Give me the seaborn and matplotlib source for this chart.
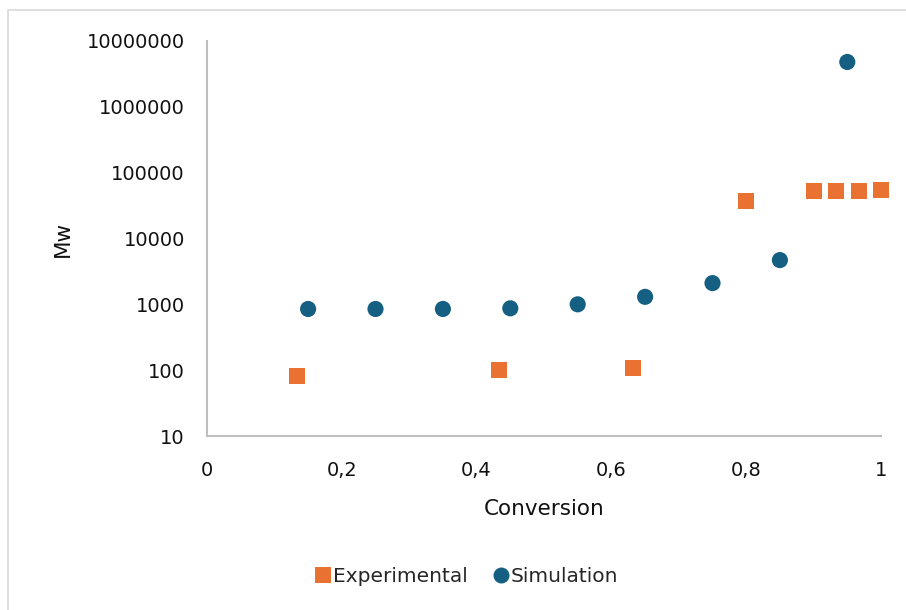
import matplotlib
matplotlib.use("Agg")
import matplotlib.pyplot as plt
from matplotlib.patches import Rectangle
from matplotlib.lines import Line2D
from matplotlib.ticker import FixedLocator, FuncFormatter, NullLocator
import seaborn as sns
import pandas as pd

# Measured weight-average molecular weight vs. conversion
exp_conversion = [0.133, 0.433, 0.632, 0.800, 0.900, 0.933, 0.967, 1.000]
exp_mw = [82, 100, 108, 37000, 52000, 52500, 52000, 54000]

# Simulated weight-average molecular weight vs. conversion
sim_conversion = [0.15, 0.25, 0.35, 0.45, 0.55, 0.65, 0.75, 0.85, 0.95]
sim_mw = [850, 850, 850, 870, 1000, 1300, 2100, 4700, 4800000]

series_names = ["Experimental", "Simulation"]
x_ticks = [0, 0.2, 0.4, 0.6, 0.8, 1.0]
y_ticks = [10, 100, 1000, 10000, 100000, 1000000, 10000000]

ORANGE = "#E97132"
BLUE = "#156082"
AXIS_GRAY = "#BFBFBF"
FONT = ["DejaVu Sans"]

df = pd.concat([
    pd.DataFrame({"Conversion": exp_conversion, "Mw": exp_mw, "Series": series_names[0]}),
    pd.DataFrame({"Conversion": sim_conversion, "Mw": sim_mw, "Series": series_names[1]}),
], ignore_index=True)

sns.set_theme(style="white")
plt.rcParams["font.family"] = FONT

fig = plt.figure(figsize=(9.06, 6.10), dpi=100)
fig.patch.set_facecolor("white")

# chart frame
fig.add_artist(Rectangle((8 / 906, -0.1), 1.2, 1 - 10 / 610 + 0.1,
                         transform=fig.transFigure, fill=False,
                         edgecolor="#D9D9D9", linewidth=1.2))

ax = fig.add_axes([207 / 906, 1 - 436 / 610, (881 - 207) / 906, (436 - 41) / 610])

palette = {series_names[0]: ORANGE, series_names[1]: BLUE}
markers = {series_names[0]: "s", series_names[1]: "o"}
sns.scatterplot(data=df, x="Conversion", y="Mw", hue="Series", style="Series",
                palette=palette, markers=markers, s=135, linewidth=0,
                legend=False, ax=ax, clip_on=False, zorder=3)

ax.set_yscale("log")
ax.set_xlim(0, 1)
ax.set_ylim(10, 1e7)
ax.yaxis.set_major_locator(FixedLocator(y_ticks))
ax.yaxis.set_minor_locator(NullLocator())
ax.yaxis.set_major_formatter(FuncFormatter(lambda v, p: f"{int(round(v))}"))
ax.xaxis.set_major_locator(FixedLocator(x_ticks))
ax.xaxis.set_major_formatter(FuncFormatter(lambda v, p: f"{v:g}".replace(".", ",")))

for side in ["top", "right"]:
    ax.spines[side].set_visible(False)
for side in ["left", "bottom"]:
    ax.spines[side].set_color(AXIS_GRAY)
    ax.spines[side].set_linewidth(1.5)

ax.tick_params(axis="both", length=0, labelsize=14, colors="#111111")
ax.tick_params(axis="y", pad=16)
ax.tick_params(axis="x", pad=18)
ax.grid(False)

ax.set_xlabel("Conversion", fontsize=15.5, labelpad=14, color="#111111")
ax.set_ylabel("Mw", fontsize=15.5, labelpad=10, color="#111111")

handles = [
    Line2D([], [], marker="s", linestyle="none", markersize=11.5,
           markerfacecolor=ORANGE, markeredgewidth=0),
    Line2D([], [], marker="o", linestyle="none", markersize=11.5,
           markerfacecolor=BLUE, markeredgewidth=0),
]
fig.legend(handles, series_names, loc="center", bbox_to_anchor=(467 / 906, 1 - 577 / 610),
           ncol=2, frameon=False, fontsize=14.5, handlelength=0.7, handletextpad=0.15,
           columnspacing=1.3)

fig.savefig("out.png", dpi=100, facecolor="white")
